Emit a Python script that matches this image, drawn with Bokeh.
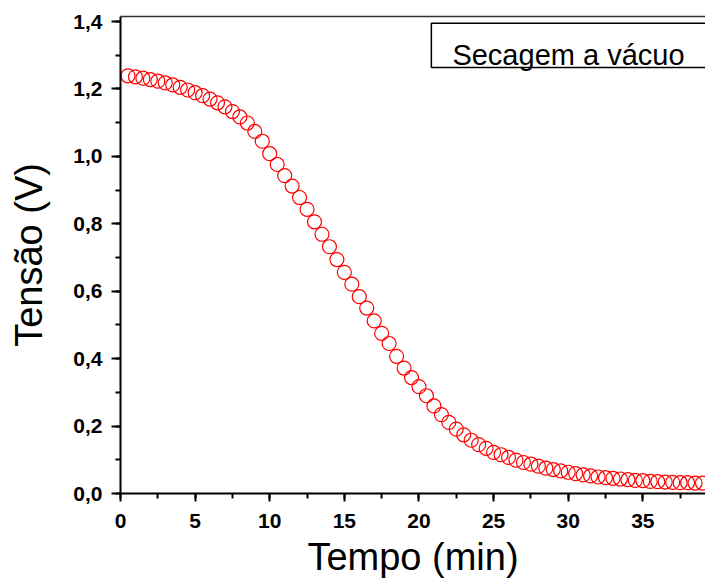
from bokeh.plotting import figure
from bokeh.embed import file_html
from bokeh.resources import INLINE
from bokeh.models import (Range1d, LinearAxis, FixedTicker, SingleIntervalTicker,
                          CustomJSTickFormatter, BoxAnnotation, Label)

# --- data ---
tempo_min = [0.5, 1.0, 1.5, 2.0, 2.5, 3.0, 3.5, 4.0, 4.5, 5.0,
             5.5, 6.0, 6.5, 7.0, 7.5, 8.0, 8.5, 9.0, 9.5, 10.0,
             10.5, 11.0, 11.5, 12.0, 12.5, 13.0, 13.5, 14.0, 14.5, 15.0,
             15.5, 16.0, 16.5, 17.0, 17.5, 18.0, 18.5, 19.0, 19.5, 20.0,
             20.5, 21.0, 21.5, 22.0, 22.5, 23.0, 23.5, 24.0, 24.5, 25.0,
             25.5, 26.0, 26.5, 27.0, 27.5, 28.0, 28.5, 29.0, 29.5, 30.0,
             30.5, 31.0, 31.5, 32.0, 32.5, 33.0, 33.5, 34.0, 34.5, 35.0,
             35.5, 36.0, 36.5, 37.0, 37.5, 38.0, 38.5, 39.0]
tensao_v = [1.239, 1.236, 1.232, 1.228, 1.223, 1.218, 1.212, 1.205, 1.197, 1.189,
            1.180, 1.170, 1.159, 1.147, 1.133, 1.117, 1.099, 1.074, 1.045, 1.008,
            0.976, 0.943, 0.912, 0.878, 0.843, 0.806, 0.769, 0.732, 0.694, 0.656,
            0.621, 0.584, 0.550, 0.512, 0.475, 0.445, 0.407, 0.372, 0.344, 0.317,
            0.290, 0.260, 0.234, 0.211, 0.191, 0.174, 0.158, 0.145, 0.134, 0.122,
            0.115, 0.107, 0.099, 0.092, 0.087, 0.081, 0.075, 0.071, 0.067, 0.063,
            0.059, 0.055, 0.052, 0.049, 0.047, 0.045, 0.043, 0.041, 0.039, 0.038,
            0.036, 0.035, 0.034, 0.033, 0.032, 0.032, 0.031, 0.031]
legend_text = "Secagem a vácuo"
x_title = "Tempo (min)"
y_title = "Tensão (V)"

FONT = "Liberation Sans"

p = figure(frame_width=585, frame_height=477,
           min_border_left=120, min_border_right=0, min_border_top=16, min_border_bottom=0,
           x_range=Range1d(0, 39.2), y_range=Range1d(0, 1.415),
           output_backend="svg", toolbar_location=None,
           background_fill_color="white", border_fill_color="white")
p.grid.visible = False
p.outline_line_color = None

p.scatter(tempo_min, tensao_v, marker="circle", size=14,
          fill_color=None, line_color="#ff0000", line_width=1.2)

# axes styling
for ax in (p.xaxis[0], p.yaxis[0]):
    ax.axis_line_width = 2
    ax.axis_line_color = "black"
    ax.major_tick_line_width = 2
    ax.minor_tick_line_width = 2
    ax.major_tick_line_color = "black"
    ax.minor_tick_line_color = "black"
    ax.major_tick_in = 0
    ax.minor_tick_in = 0
    ax.major_label_text_font = FONT
    ax.major_label_text_font_style = "bold"
    ax.major_label_text_font_size = "21px"
    ax.major_label_text_color = "black"
    ax.axis_label_text_font = FONT
    ax.axis_label_text_font_style = "normal"
    ax.axis_label_text_font_size = "38px"
    ax.axis_label_text_color = "black"

p.xaxis.ticker = SingleIntervalTicker(interval=5, num_minor_ticks=2)
p.yaxis.ticker = SingleIntervalTicker(interval=0.2, num_minor_ticks=2)
p.xaxis.major_tick_out = 8
p.xaxis.minor_tick_out = 5
p.yaxis.major_tick_out = 9
p.yaxis.minor_tick_out = 5
p.xaxis.major_label_standoff = 12
p.yaxis.major_label_standoff = 9
p.yaxis.formatter = CustomJSTickFormatter(code="return tick.toFixed(1).replace('.', ',');")
p.xaxis.axis_label = x_title
p.yaxis.axis_label = y_title
p.xaxis.axis_label_standoff = 5
p.yaxis.axis_label_standoff = 20

# top frame line (no right border visible in the reference)
top = LinearAxis(ticker=FixedTicker(ticks=[]), major_label_text_font_size="0px",
                 axis_line_width=1.5, axis_line_color="#333333",
                 major_tick_line_color=None, minor_tick_line_color=None)
p.add_layout(top, "above")

# legend-like box
box = BoxAnnotation(left=20.83, right=45, top=1.3947, bottom=1.264,
                    fill_color="white", fill_alpha=1.0,
                    line_color="black", line_alpha=1.0, line_width=1.5)
p.add_layout(box)
lab = Label(x=22.24, y=1.302, text=legend_text, text_font=FONT,
            text_font_size="29px", text_baseline="alphabetic", text_color="black")
p.add_layout(lab)

open("out.html", "w").write(file_html(p, INLINE))
